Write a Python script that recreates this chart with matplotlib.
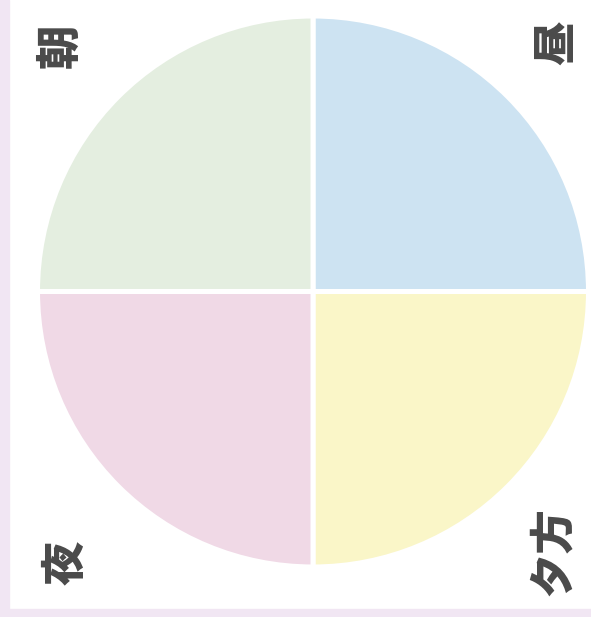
import matplotlib
matplotlib.use("Agg")
import matplotlib.pyplot as plt
from matplotlib.patches import Rectangle

plt.rcParams['font.family'] = ['Noto Sans CJK JP', 'DejaVu Sans']

# quadrants, clockwise from the top
labels = ["昼", "夕方", "夜", "朝"]
values = [25, 25, 25, 25]
colors = ["#cde3f2", "#faf6c8", "#f0d9e6", "#e4eee0"]

W, H = 591, 617
fig = plt.figure(figsize=(W / 100, H / 100), dpi=100)

# lavender frame on the left and bottom
border = "#f1e6f3"
fig.patches.append(Rectangle((0, 0), 9 / W, 1, transform=fig.transFigure, color=border, zorder=0))
fig.patches.append(Rectangle((0, 0), 1, 8 / H, transform=fig.transFigure, color=border, zorder=0))

ax = fig.add_axes([40 / W, (H - 565) / H, 546 / W, 547 / H])
ax.pie(values, colors=colors, startangle=90, counterclock=False,
       wedgeprops=dict(edgecolor="white", linewidth=3.6))
ax.set_xlim(-0.991, 0.991)
ax.set_ylim(-0.991, 0.991)
ax.set_aspect("equal")
ax.axis("off")

# corner labels, written sideways
label_pos = {"朝": (60, 46), "昼": (557, 43), "夜": (66, 563), "夕方": (553, 551)}
for lab in labels:
    x, y = label_pos[lab]
    fig.text(x / W, 1 - y / H, lab, rotation=90, ha="center", va="center",
             fontsize=32, fontweight="heavy", color="#4a4a4a")

fig.savefig("out.png", dpi=100, facecolor="white")
